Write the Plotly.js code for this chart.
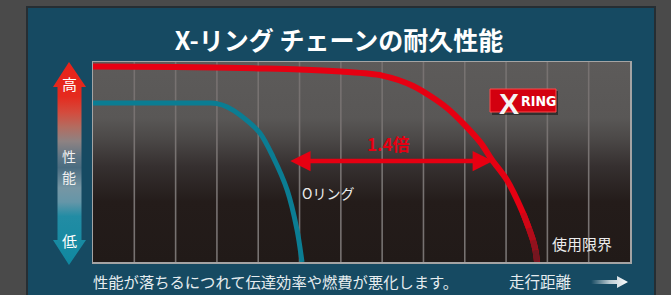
<!DOCTYPE html>
<html><head><meta charset="utf-8">
<script src="https://cdn.plot.ly/plotly-3.0.1.min.js"></script>
<style>html,body{margin:0;padding:0;background:#4a4a4a;}#chart{width:671px;height:295px;}</style>
</head><body><div id="chart"></div>
<script>
// ---- data ----
const chartTitle = 'X-リング チェーンの耐久性能';
const xRingDistance    = [0, 2, 4, 5, 6, 7, 7.75, 8.57, 9.37, 9.66, 10.02, 10.41, 10.55, 10.65, 10.71, 10.75];
const xRingPerformance = [97.75, 97.5, 96.8, 96.3, 95.2, 93.2, 88, 77, 60, 51, 41, 24.5, 17, 11, 6, 0];
const oRingDistance    = [0, 2, 2.83, 3.0, 3.25, 3.56, 4.04, 4.36, 4.70, 4.94, 5.06];
const oRingPerformance = [79.5, 79.5, 79.5, 79.2, 77.5, 73.5, 64.5, 52.5, 36, 16, 0];
const gridTicks = [1, 2, 3, 4, 5, 6, 7, 8, 9, 10, 11, 12];
const ratioLabel = '1.4倍';
const ratioLevel = 50.5, ratioFrom = 4.74, ratioTo = 9.68;
const oRingLabel = 'Oリング';
const limitLabel = '使用限界';
const axisHigh = '高', axisLow = '低', axisName = '性能';
const xAxisName = '走行距離';
const noteText = '性能が落ちるにつれて伝達効率や燃費が悪化します。';
const tailColors = ['#d00616', '#b00c1a', '#90121e', '#741620'];

const W = 671, H = 295;
const px = x => x / W, py = y => 1 - y / H;
const JP = '"Noto Sans CJK JP", "Noto Sans", sans-serif';

// ---- traces ----
const traces = [];
// plot background gradient
traces.push({x:[0,13,13,0,0], y:[0,0,100,100,0], mode:'lines', line:{width:0}, fill:'toself',
  fillgradient:{type:'vertical', start:0, stop:100,
    colorscale:[[0,'#211a18'],[0.3,'#241c1a'],[0.48,'#363030'],[0.62,'#4c4948'],[0.72,'#595756'],[1,'#5d5b5a']]},
  hoverinfo:'skip', showlegend:false, xaxis:'x', yaxis:'y'});
// grid lines
const gx = [], gy = [];
gridTicks.forEach(t => { gx.push(t, t, null); gy.push(0, 100, null); });
traces.push({x:gx, y:gy, mode:'lines', line:{color:'#777271', width:1.6}, hoverinfo:'skip', showlegend:false});
// O-ring
traces.push({x:oRingDistance, y:oRingPerformance, mode:'lines', line:{color:'#0b7d93', width:5, shape:'spline', smoothing:0.8},
  hoverinfo:'skip', showlegend:false});
// X-ring
traces.push({x:xRingDistance, y:xRingPerformance, mode:'lines', line:{color:'#e60012', width:6, shape:'spline', smoothing:0.8},
  hoverinfo:'skip', showlegend:false});
// X-ring fading tail
const n = xRingDistance.length;
for (let k = 0; k < tailColors.length; k++) {
  const i = n - 1 - tailColors.length + k;
  traces.push({x:[xRingDistance[i], xRingDistance[i+1]], y:[xRingPerformance[i], xRingPerformance[i+1]],
    mode:'lines', line:{color:tailColors[k], width:6}, hoverinfo:'skip', showlegend:false});
}
// left vertical gradient arrow (decoration, overlay pixel axes)
traces.push({x:[69,86,81.5,81.5,86,69,53,57.5,57.5,53,69], y:[62,87,87,240,240,265,240,240,87,87,62],
  mode:'lines', line:{width:0}, fill:'toself', xaxis:'x2', yaxis:'y2',
  fillgradient:{type:'vertical', start:62, stop:265,
    colorscale:[[0,'#e8231a'],[0.17,'#e52a1e'],[0.25,'#d34c3e'],[0.32,'#b36c60'],[0.39,'#8e8282'],
                [0.47,'#5d7585'],[0.52,'#4a6c80'],[0.62,'#7696a4'],[0.69,'#6596a8'],[0.76,'#228ca4'],[1,'#0f88a0']]},
  hoverinfo:'skip', showlegend:false});
// bottom-right distance arrow
traces.push({x:[591,617,617,628,617,617,591,591], y:[280,280,276,282,288,284,284,280],
  mode:'lines', line:{width:0}, fill:'toself', xaxis:'x2', yaxis:'y2',
  fillgradient:{type:'horizontal', start:591, stop:628,
    colorscale:[[0,'rgba(255,255,255,0)'],[0.5,'rgba(255,255,255,0.7)'],[1,'#ffffff']]},
  hoverinfo:'skip', showlegend:false});

// ---- layout ----
const ann = [];
const txt = (text, x, y, size, color, extra) => Object.assign({text, x:px(x), y:py(y), xref:'paper', yref:'paper',
  showarrow:false, xanchor:'center', yanchor:'middle', borderpad:0, font:{family:JP, size, color}}, extra || {});
ann.push(txt(axisHigh, 69, 84, 15, '#ffffff'));
ann.push(txt(axisName.charAt(0), 69, 156, 14, '#f0f0f0'));
ann.push(txt(axisName.charAt(1), 69, 177, 14, '#f0f0f0'));
ann.push(txt(axisLow, 69, 240, 15, '#ffffff'));
ann.push(txt(oRingLabel, 328, 193, 14, '#ececec'));
ann.push(txt(limitLabel, 582, 243, 15, '#ececec'));
ann.push(txt(noteText, 275, 281, 15.3, '#e6edf0'));
ann.push(txt(xAxisName, 540, 281, 15.5, '#e6edf0'));
ann.push({text:'<b>' + ratioLabel + '</b>', x:(ratioFrom + ratioTo) / 2 - 0.05, y:ratioLevel + 9, xref:'x', yref:'y',
  showarrow:false, font:{family:JP, size:17, color:'#e60012'}});
ann.push({text:'', x:ratioTo, y:ratioLevel, ax:ratioFrom, ay:ratioLevel, xref:'x', yref:'y', axref:'x', ayref:'y',
  showarrow:true, arrowside:'end+start', arrowhead:2, arrowsize:0.9, arrowwidth:4.5, arrowcolor:'#e60012', standoff:0, startstandoff:0});
// X RING logo text
ann.push(txt('<b>X</b>', 509, 103, 30, '#ffffff', {font:{family:'"Liberation Sans", Arial, sans-serif', size:30, color:'#f4f4f4'}}));
ann.push(txt('<b>RING</b>', 538, 101, 14, '#ffffff', {font:{family:'"Liberation Sans Narrow", "DejaVu Sans Condensed", sans-serif', size:14, color:'#ffffff'}}));

const shapes = [
  {type:'rect', xref:'paper', yref:'paper', x0:px(27), x1:px(655), y0:py(7), y1:py(300), fillcolor:'#164a62',
   line:{color:'#262e33', width:2}, layer:'below'},
  {type:'rect', xref:'paper', yref:'paper', x0:px(492), x1:px(558), y0:py(91), y1:py(115), fillcolor:'rgba(0,0,0,0.45)',
   line:{width:0}, layer:'above'},
  {type:'rect', xref:'paper', yref:'paper', x0:px(490), x1:px(556), y0:py(89), y1:py(112), fillcolor:'#d3000f',
   line:{color:'#ff4a4a', width:1}, layer:'above'}
];

const layout = {
  width:W, height:H, margin:{l:0, r:0, t:0, b:0}, paper_bgcolor:'#4a4a4a', plot_bgcolor:'rgba(0,0,0,0)',
  title:{text:'<b>' + chartTitle + '</b>', x:px(339), xanchor:'center', y:py(41), yanchor:'middle',
    font:{family:JP, size:25, color:'#ffffff'}},
  xaxis:{domain:[px(93), px(630)], range:[0,13], showgrid:false, zeroline:false, showticklabels:false, ticks:'',
    showline:true, mirror:true, linecolor:'#a4a4a4', linewidth:1.5, fixedrange:true},
  yaxis:{domain:[py(262), py(62)], range:[0,100], showgrid:false, zeroline:false, showticklabels:false, ticks:'',
    showline:true, mirror:true, linecolor:'#a4a4a4', linewidth:1.5, fixedrange:true},
  xaxis2:{domain:[0,1], range:[0,W], visible:false, anchor:'y2', fixedrange:true},
  yaxis2:{domain:[0,1], range:[H,0], visible:false, anchor:'x2', fixedrange:true},
  annotations:ann, shapes:shapes, showlegend:false
};

Plotly.newPlot('chart', traces, layout, {staticPlot:true, displayModeBar:false});
</script></body></html>
